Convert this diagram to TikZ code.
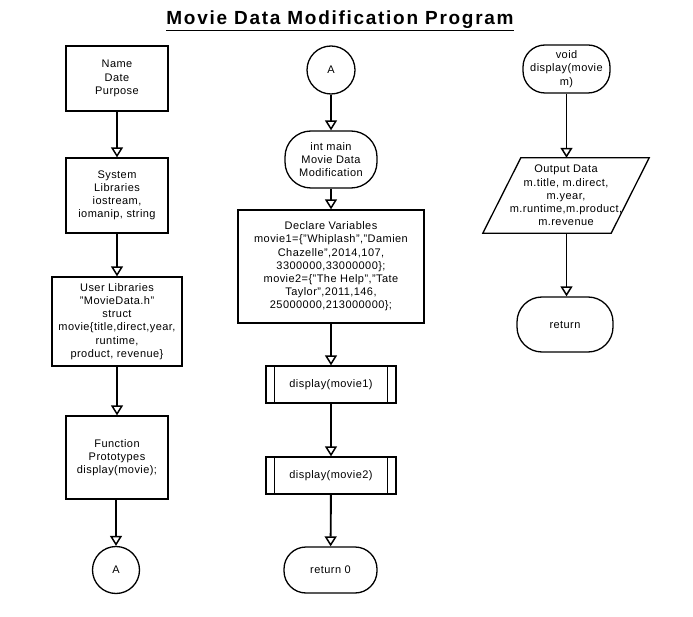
\documentclass[tikz,border=0pt]{standalone}
\usepackage{fontspec}
\setmainfont{Liberation Sans}
\usetikzlibrary{arrows.meta}
\begin{document}
\begin{tikzpicture}[x=1pt,y=-1pt,
  every node/.style={font=\fontsize{11}{13.2}\selectfont\addfontfeature{LetterSpace=4}, align=center, inner sep=0pt},
  procbox/.style={draw, line width=1.3pt, minimum width=#1},
  termbox/.style={draw, line width=1.3pt, rounded corners=22pt},
  conn/.style={draw, line width=1.3pt, circle},
  flow/.style={line width=1.9pt, -{Triangle[open, length=10pt, width=12pt, line width=1.5pt]}},
  ttl/.style={font=\fontsize{19}{22}\selectfont\bfseries\addfontfeature{LetterSpace=9}}
]
\useasboundingbox (0,0) rectangle (693,617);
\fill[white] (0,0) rectangle (693,617);

% title
\node[ttl] (title) at (340,21) {\underline{Movie Data Modification Program}};

% left column
\node[procbox=102pt, minimum height=65pt] (n1) at (117,78.5) {Name\\Date\\Purpose};
\node[procbox=102pt, minimum height=75pt] (n2) at (117,195.5) {System\\Libraries\\iostream,\\iomanip, string};
\node[procbox=130pt, minimum height=89pt] (n3) at (117,321.5) {User Libraries\\"MovieData.h"\\struct\\movie\{title,direct,year,\\runtime,\\product, revenue\}};
\node[procbox=102pt, minimum height=83pt] (n4) at (117,457.5) {Function\\Prototypes\\display(movie);};
\node[conn, minimum size=47pt] (a1) at (116,570) {A};

% middle column
\node[conn, minimum size=48pt] (a2) at (331,70) {A};
\node[termbox, minimum width=92pt, minimum height=57pt, rounded corners=26pt] (main) at (331,159.5) {int main\\Movie Data\\Modification};
\node[procbox=186pt, minimum height=113pt] (decl) at (331,266.5) {Declare Variables\\movie1=\{"Whiplash","Damien\\Chazelle",2014,107,\\3300000,33000000\};\\movie2=\{"The Help","Tate\\Taylor",2011,146,\\25000000,213000000\};};
\node[procbox=130pt, minimum height=37pt] (d1) at (331,384.5) {display(movie1)};
\node[procbox=130pt, minimum height=37pt] (d2) at (331,475.5) {display(movie2)};
\foreach \b in {d1,d2}{
  \draw[line width=1pt] ([xshift=9pt]\b.north west) -- ([xshift=9pt]\b.south west);
  \draw[line width=1pt] ([xshift=-9pt]\b.north east) -- ([xshift=-9pt]\b.south east);
}
\node[termbox, minimum width=93pt, minimum height=46pt] (ret0) at (330.5,570) {return 0};

% right column
\node[termbox, minimum width=87pt, minimum height=48pt] (disp) at (566.5,69) {void\\display(movie\\m)};
\node[minimum width=128pt, minimum height=75pt] (out) at (566,195.5) {Output Data\\m.title, m.direct,\\m.year,\\m.runtime,m.product,\\m.revenue};
\draw[line width=1.3pt] ([xshift=19pt]out.north west) -- ([xshift=19pt]out.north east)
  -- ([xshift=-19pt]out.south east) -- ([xshift=-19pt]out.south west) -- cycle;
\node[termbox, minimum width=96pt, minimum height=55pt, rounded corners=25pt] (ret) at (565,324.5) {return};

% connectors
\draw[flow] (n1) -- (n2);
\draw[flow] (n2) -- (n3);
\draw[flow] (n3) -- (n4);
\draw[flow] (n4.south -| a1) -- (a1);
\draw[flow] (a2) -- (main);
\draw[flow] (main) -- (decl);
\draw[flow] (decl) -- (d1);
\draw[flow] (d1) -- (d2);
\draw[flow] (d2) -- (ret0);
\draw[flow] (disp.south) -- (disp.south |- out.north);
\draw[flow] (out.south -| disp.south) -- (ret.north -| disp.south);
\end{tikzpicture}
\end{document}
